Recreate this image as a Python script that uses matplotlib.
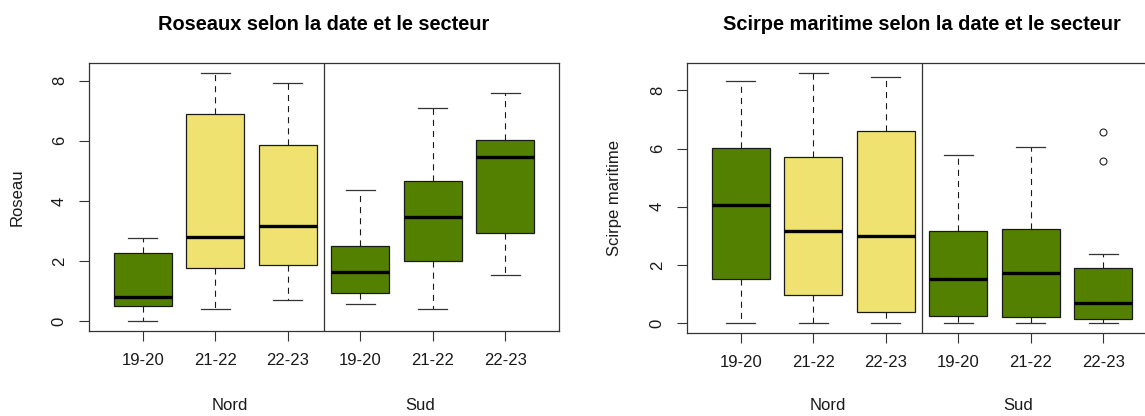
import matplotlib
matplotlib.use("Agg")
import matplotlib.pyplot as plt
import matplotlib.transforms as mtransforms

plt.rcParams['font.family'] = ['Liberation Sans', 'DejaVu Sans']

# Categories
dates = ["19-20", "21-22", "22-23", "19-20", "21-22", "22-23"]
secteurs = ["Nord", "Sud"]

# Box fill per group (Nord 19-20, Nord 21-22, Nord 22-23, Sud ...)
green = "#548000"
yellow = "#EFE270"
fills = [green, yellow, yellow, green, green, green]

# Roseau: five-number summaries
roseau_whislo = [0.00, 0.40, 0.70, 0.58, 0.40, 1.54]
roseau_q1 = [0.50, 1.76, 1.86, 0.94, 2.01, 2.92]
roseau_med = [0.79, 2.80, 3.16, 1.62, 3.45, 5.45]
roseau_q3 = [2.27, 6.89, 5.85, 2.51, 4.67, 6.03]
roseau_whishi = [2.76, 8.26, 7.94, 4.35, 7.10, 7.58]
roseau_fliers = [[], [], [], [], [], []]

# Scirpe maritime: five-number summaries
scirpe_whislo = [0.00, 0.00, 0.00, 0.00, 0.00, 0.00]
scirpe_q1 = [1.53, 0.97, 0.37, 0.24, 0.22, 0.15]
scirpe_med = [4.07, 3.17, 3.00, 1.52, 1.72, 0.70]
scirpe_q3 = [6.01, 5.71, 6.61, 3.17, 3.23, 1.90]
scirpe_whishi = [8.33, 8.59, 8.45, 5.79, 6.05, 2.36]
scirpe_fliers = [[], [], [], [], [], [6.57, 5.56]]

yticks = [0, 2, 4, 6, 8]

W, H = 1145, 416
fig = plt.figure(figsize=(W / 100, H / 100), dpi=100)

frame_col = "#333333"


def make_stats(lo, q1, med, q3, hi, fl):
    return [dict(whislo=a, q1=b, med=c, q3=d, whishi=e, fliers=f)
            for a, b, c, d, e, f in zip(lo, q1, med, q3, hi, fl)]


def draw_panel(ax, stats, title, ylabel, title_x, ylabel_x):
    positions = list(range(1, len(stats) + 1))
    bp = ax.bxp(stats, positions=positions, widths=0.8, capwidths=0.4,
                patch_artist=True, showfliers=True,
                boxprops=dict(edgecolor="#1a1a1a", linewidth=0.9),
                medianprops=dict(color="black", linewidth=2.4,
                                 solid_capstyle="butt"),
                whiskerprops=dict(color="#1a1a1a", linewidth=0.8,
                                  linestyle=(0, (5.5, 4.5))),
                capprops=dict(color="#333333", linewidth=0.9),
                flierprops=dict(marker="o", markerfacecolor="none",
                                markeredgecolor="#222222", markersize=5,
                                markeredgewidth=0.8))
    for patch, col in zip(bp["boxes"], fills):
        patch.set_facecolor(col)

    # R-style limits: 0.5..n+0.5 and data range, each widened by 4 %
    n = len(stats)
    ax.set_xlim(0.5 - 0.04 * n, n + 0.5 + 0.04 * n)
    lo = min(s["whislo"] for s in stats)
    hi = max([s["whishi"] for s in stats] +
             [v for s in stats for v in s["fliers"]])
    pad = 0.04 * (hi - lo)
    ax.set_ylim(lo - pad, hi + pad)

    # separator between the two sectors
    ax.axvline(3.5, color=frame_col, linewidth=0.9)

    ax.set_xticks(positions)
    ax.set_xticklabels(dates)
    ax.set_yticks(yticks)
    ax.set_yticklabels([str(v) for v in yticks], rotation=90, va="center")
    ax.tick_params(axis="both", length=7.5, width=0.8, color=frame_col,
                   pad=8.5, labelsize=12, labelcolor="#1a1a1a")
    for sp in ax.spines.values():
        sp.set_color(frame_col)
        sp.set_linewidth(0.9)

    # sector labels beneath the date ticks
    trans = mtransforms.blended_transform_factory(ax.transData, fig.transFigure)
    for xpos, name in zip([2.2, 4.83], secteurs):
        ax.text(xpos, 1 - 405 / H, name, transform=trans, ha="center",
                va="center", fontsize=12, color="#1a1a1a")

    fig.text(title_x / W, 1 - 30.5 / H, title, ha="center", va="baseline",
             fontsize=14.4, fontweight="bold", color="black")
    pos = ax.get_position()
    fig.text(ylabel_x / W, (pos.y0 + pos.y1) / 2, ylabel, rotation=90,
             ha="center", va="center", fontsize=12, color="#1a1a1a")


ax1 = fig.add_axes([89 / W, (H - 331) / H, 470 / W, 268 / H])
draw_panel(ax1,
           make_stats(roseau_whislo, roseau_q1, roseau_med, roseau_q3,
                      roseau_whishi, roseau_fliers),
           "Roseaux selon la date et le secteur", "Roseau", 324, 17)

ax2 = fig.add_axes([687 / W, (H - 333) / H, 470 / W, 269.7 / H])
draw_panel(ax2,
           make_stats(scirpe_whislo, scirpe_q1, scirpe_med, scirpe_q3,
                      scirpe_whishi, scirpe_fliers),
           "Scirpe maritime selon la date et le secteur", "Scirpe maritime",
           922, 615)

fig.savefig("out.png", dpi=100, facecolor="white")
